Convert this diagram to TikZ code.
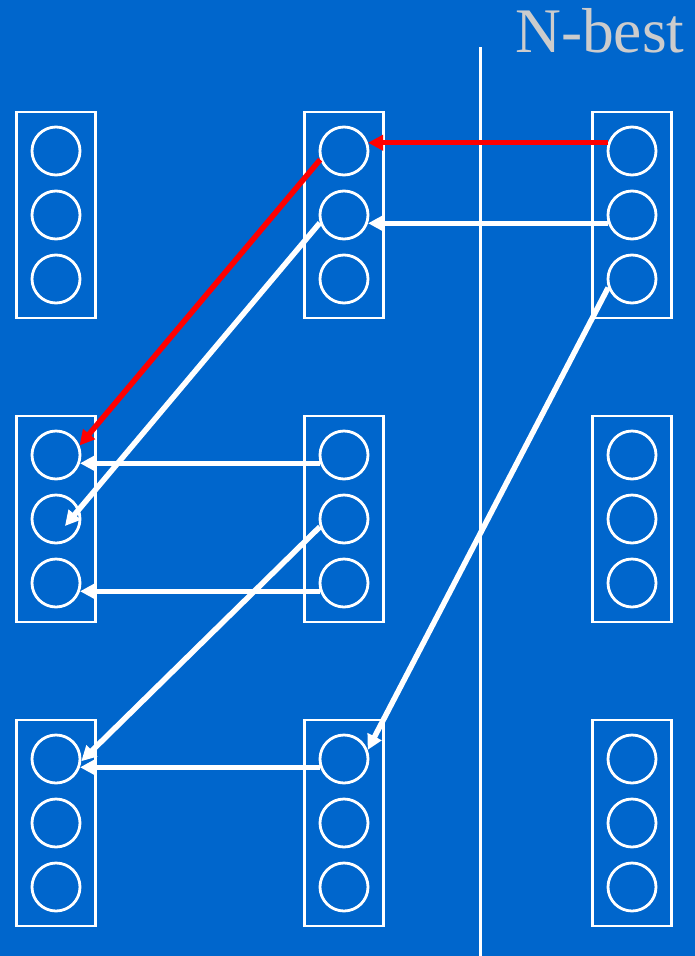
\documentclass[tikz,border=0pt]{standalone}
\usepackage{fontspec}
\setmainfont{Liberation Serif}
\usetikzlibrary{arrows.meta,calc}
\definecolor{bg}{RGB}{0,102,204}
\definecolor{lbl}{RGB}{204,204,204}
\begin{document}
\begin{tikzpicture}[x=1pt,y=-1pt,
  slot/.style={draw=white,line width=2.8pt,circle,minimum size=48pt,inner sep=0pt},
  frame/.style={draw=white,line width=2.8pt,rectangle,minimum width=79pt,minimum height=206pt,inner sep=0pt},
  link/.style={draw=white,line width=5.5pt,-{Triangle[length=15pt,width=15pt]}},
  hot/.style={link,draw=red,fill=red}]
\fill[bg] (0,0) rectangle (695,956);
\useasboundingbox (0,0) rectangle (695,956);
\foreach \col/\x in {L/56,M/344,R/632}{
  \foreach \row/\y in {1/215,2/519,3/823}{
    \node[frame] (\col\row) at (\x,\y) {};
    \node[slot] (\col\row1) at (\x,\y-64) {};
    \node[slot] (\col\row2) at (\x,\y) {};
    \node[slot] (\col\row3) at (\x,\y+64) {};
  }
}
\coordinate (vt) at (480,47);
\coordinate (vb) at (480,956);
\draw[white,line width=3pt] (vt) -- (vb);
\node[anchor=base west,inner sep=0pt,text=lbl,font=\fontsize{63.5}{63.5}\selectfont] (nb) at (515,52) {N-best};
\draw[hot] (R11.161) -- (M11.19);
\draw[link] (R12.199) -- (M12.341);
\draw[hot] (M11.200) -- (L21.22);
\draw[link] (M12.198) -- ($(L22)+(9,7)$);
\draw[link] (R13.200) -- (M31.21);
\draw[link] (M21.199) -- (L21.341);
\draw[link] (M23.199) -- (L23.341);
\draw[link] (M22.198) -- (L31.355);
\draw[link] (M31.199) -- (L31.341);
\end{tikzpicture}
\end{document}
